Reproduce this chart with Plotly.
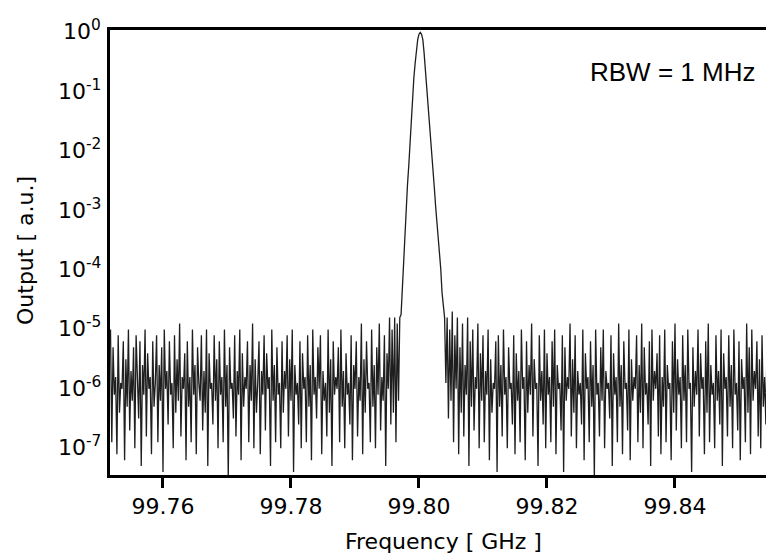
import numpy as np
import plotly.graph_objects as go

# ---- data (log10 of output) ----
freq_start_ghz = 99.7518
freq_step_ghz = 0.0002

left_noise_log10 = [
    -5.0, -6.9, -5.3, -6.1, -5.8, -7.1, -5.1, -6.4, -5.9, -6.0, -5.2, -7.2, -5.5, -6.3, -5.0, -6.7, -5.7, -6.2, -5.3, -7.0,
    -5.1, -5.9, -6.5, -5.2, -7.3, -5.6, -6.1, -5.0, -6.8, -5.4, -6.0, -5.8, -7.1, -5.2, -6.3, -5.9, -5.1, -6.9, -5.6, -6.2,
    -5.3, -7.4, -5.0, -6.0, -5.7, -6.6, -5.2, -6.1, -5.9, -7.0, -5.1, -6.4, -5.5, -6.2, -4.9, -6.8, -5.8, -6.0, -5.4, -7.2,
    -5.2, -6.3, -5.8, -6.9, -5.0, -6.1, -5.6, -7.1, -5.3, -5.9, -6.2, -5.1, -6.7, -5.7, -6.4, -5.0, -7.3, -5.4, -6.0, -5.9,
    -6.6, -5.1, -6.2, -5.5, -7.0, -5.2, -6.1, -5.8, -6.9, -5.0, -6.3, -5.6, -7.5, -5.3, -6.0, -5.9, -6.5, -5.1, -6.8, -5.7,
    -6.1, -5.0, -7.2, -5.4, -6.3, -5.8, -6.0, -5.2, -6.9, -5.6, -6.2, -4.9, -7.0, -5.5, -6.4, -5.9, -5.2, -7.1, -5.7, -6.1,
    -5.1, -6.7, -5.4, -6.0, -5.8, -7.3, -5.0, -6.2, -5.6, -6.9, -5.3, -6.1, -5.9, -7.0, -5.2, -6.4, -5.7, -6.0, -5.1, -6.8,
    -5.5, -6.2, -5.0, -7.4, -5.6, -6.1, -5.9, -6.6, -5.2, -7.0, -5.4, -6.0, -5.8, -6.9, -5.1, -6.3, -5.6, -7.2, -5.0, -6.1,
    -5.8, -6.5, -5.3, -6.0, -5.1, -7.1, -5.7, -6.2, -5.9, -6.8, -5.0, -6.4, -5.5, -7.3, -5.2, -6.1, -5.8, -6.0, -5.3, -6.9,
    -5.0, -6.3, -5.7, -7.0, -5.4, -6.1, -5.9, -6.6, -5.1, -7.2, -5.6, -6.0, -5.2, -6.8, -5.8, -6.2, -4.9, -7.1, -5.5, -6.4,
    -5.2, -6.0, -5.9, -6.9, -5.0, -6.3, -5.6, -7.0, -5.3, -6.1, -4.9, -6.7, -5.8, -6.2, -5.1, -7.3, -5.4, -6.0, -4.8, -6.6,
    -5.0, -6.4, -4.8, -6.9, -4.9, -6.2, -4.8,
]

peak_log10 = [
    -4.75, -4.3, -3.73, -3.3, -2.87, -2.57, -2.25, -1.86, -1.45, -1.08, -0.76, -0.52, -0.3, -0.12, -0.03,
    0.0,
    -0.03, -0.12, -0.35, -0.62, -0.89, -1.16, -1.42, -1.75, -2.02, -2.32, -2.62, -2.93, -3.18, -3.45,
    -3.7, -3.98, -4.38, -4.6, -4.8,
]

right_noise_log10 = [
    -5.9, -4.8, -6.5, -5.0, -6.2, -4.7, -6.9, -5.1, -6.0, -4.8, -7.1, -5.3, -6.4, -4.9, -6.8, -5.6, -6.1, -4.8, -7.3, -5.2,
    -6.3, -5.0, -6.7, -5.8, -6.0, -4.9, -7.0, -5.4, -6.2, -5.1, -6.9, -5.7, -6.1, -5.0, -7.2, -5.5, -6.4, -5.9, -6.0, -5.2,
    -7.4, -5.1, -6.3, -5.6, -6.8, -5.0, -6.1, -5.8, -7.0, -5.3, -6.0, -5.9, -6.6, -5.1, -7.1, -5.4, -6.2, -5.7, -6.9, -5.0,
    -6.0, -5.8, -7.2, -5.2, -6.4, -5.6, -6.1, -4.9, -6.8, -5.5, -6.0, -5.9, -7.3, -5.1, -6.2, -5.7, -6.6, -5.0, -7.0, -5.4,
    -6.1, -5.8, -6.9, -5.2, -6.3, -5.0, -7.1, -5.6, -6.0, -5.9, -6.7, -5.1, -7.4, -5.3, -6.2, -5.8, -6.0, -4.9, -6.8, -5.5,
    -6.4, -5.1, -7.0, -5.7, -6.1, -5.9, -6.6, -5.0, -7.2, -5.4, -6.0, -5.8, -6.9, -5.2, -6.3, -5.6, -7.5, -5.0, -6.1, -5.9,
    -6.8, -5.3, -6.2, -5.0, -7.0, -5.7, -6.0, -5.9, -6.5, -5.1, -7.3, -5.4, -6.1, -5.8, -6.9, -4.9, -6.3, -5.6, -7.1, -5.2,
    -6.0, -5.9, -6.7, -5.0, -7.2, -5.5, -6.2, -5.8, -6.0, -5.1, -6.9, -5.6, -6.4, -4.9, -7.0, -5.3, -6.1, -5.9, -6.6, -5.2,
    -7.3, -5.0, -6.2, -5.7, -6.0, -5.4, -6.8, -5.1, -7.1, -5.8, -6.3, -5.0, -6.9, -5.6, -6.0, -5.9, -7.2, -5.2, -6.4, -4.9,
    -6.7, -5.5, -6.1, -5.8, -7.0, -5.1, -6.2, -5.6, -6.9, -5.0, -6.0, -5.9, -7.4, -5.3, -6.3, -5.7, -6.1, -5.0, -6.8, -5.4,
    -6.0, -5.8, -7.1, -5.2, -6.4, -4.9, -6.9, -5.6, -6.1, -5.9, -7.0, -5.1, -6.2, -5.7, -6.6, -5.0, -7.3, -5.4, -6.0, -5.8,
    -6.8, -5.1, -6.3, -5.6, -7.0, -5.0, -6.1, -5.9, -6.7, -5.2, -7.2, -5.5, -6.0, -5.8, -6.9, -4.9, -6.4, -5.3, -7.1, -5.0,
    -6.2, -5.7, -6.0, -5.2, -6.8, -5.5, -7.0, -5.1, -6.3, -5.8, -6.6, -5.0, -7.2, -5.4, -6.1, -5.9, -6.9, -5.2,
]

x_tick_vals = [99.76, 99.78, 99.80, 99.82, 99.84]
x_range = [99.75172, 99.85547]
y_tick_exponents = [0, -1, -2, -3, -4, -5, -6, -7]
y_range_log10 = [-7.45, 0.04]

annotation_text = "RBW = 1 MHz"
x_title = "Frequency [ GHz ]"
y_title = "Output [ a.u.]"

# ---- build ----
log_vals = np.array(left_noise_log10 + peak_log10 + right_noise_log10)
freq = freq_start_ghz + freq_step_ghz * np.arange(len(log_vals))
output = 10.0 ** log_vals

# page body has an 8px margin, so the figure is drawn 8px right/down
OFF = 8
W, H = 774 - OFF, 560 - OFF
PL, PT, PR, PB = 110 - OFF, 30 - OFF, 774 - OFF, 475 - OFF  # plot area in figure px
pw, ph = PR - PL, PB - PT


def px(xw):
    return (xw - OFF - PL) / pw


def py(yw):
    return 1 - (yw - OFF - PT) / ph


fig = go.Figure()
fig.add_trace(go.Scatter(
    x=freq, y=output, mode="lines",
    line=dict(color="#1e1e1e", width=1.3),
    showlegend=False, hoverinfo="skip",
))

# outside tick marks below the x axis: vertical-line markers placed on the
# axis scales, half a tick-length below the bottom of the y range
decades_per_px = (y_range_log10[1] - y_range_log10[0]) / ph
tick_center_y = 10.0 ** (y_range_log10[0] - 6.5 * decades_per_px)
fig.add_trace(go.Scatter(
    x=x_tick_vals, y=[tick_center_y] * len(x_tick_vals), mode="markers",
    marker=dict(symbol="line-ns", size=11, color="black",
                line=dict(color="black", width=2.5)),
    cliponaxis=False, showlegend=False, hoverinfo="skip",
))

tick_font = dict(family="DejaVu Sans", size=22, color="black")

# y tick labels (10^n), placed on the y axis scale
y_label_annots = [
    dict(text=f"10<sup>{e}</sup>", xref="paper", yref="y", x=px(103), y=e,
         xanchor="right", yanchor="middle", yshift=2, showarrow=False,
         font=tick_font)
    for e in y_tick_exponents
]

fig.update_layout(
    template="simple_white",
    width=W, height=H,
    margin=dict(l=PL, r=W - PR, t=PT, b=H - PB, autoexpand=False),
    paper_bgcolor="white", plot_bgcolor="white",
    xaxis=dict(
        range=x_range, showgrid=False, zeroline=False,
        showline=True, linecolor="black", linewidth=2.5, mirror=True,
        ticks="outside", ticklen=10, tickwidth=2.5, tickcolor="black",
        tickmode="array",
        tickvals=x_tick_vals, ticktext=[f"{v:.2f}" for v in x_tick_vals],
        tickfont=tick_font,
    ),
    yaxis=dict(
        type="log", range=y_range_log10, showgrid=False, zeroline=False,
        showline=True, linecolor="black", linewidth=2.5,
        ticks="", showticklabels=False,
    ),
    annotations=y_label_annots + [
        dict(text=annotation_text, xref="paper", yref="paper",
             x=px(672.5), y=py(72),
             xanchor="center", yanchor="middle", showarrow=False,
             font=dict(family="Liberation Sans", size=26, color="black")),
        dict(text=x_title, xref="paper", yref="paper",
             x=px(443), y=py(541), xanchor="center", yanchor="middle",
             showarrow=False, font=dict(family="DejaVu Sans", size=22, color="black")),
        dict(text=y_title, xref="paper", yref="paper",
             x=px(25), y=py(251), xanchor="center", yanchor="middle",
             textangle=-90, showarrow=False,
             font=dict(family="DejaVu Sans", size=22, color="black")),
    ],
)

fig.write_html("out.html")
